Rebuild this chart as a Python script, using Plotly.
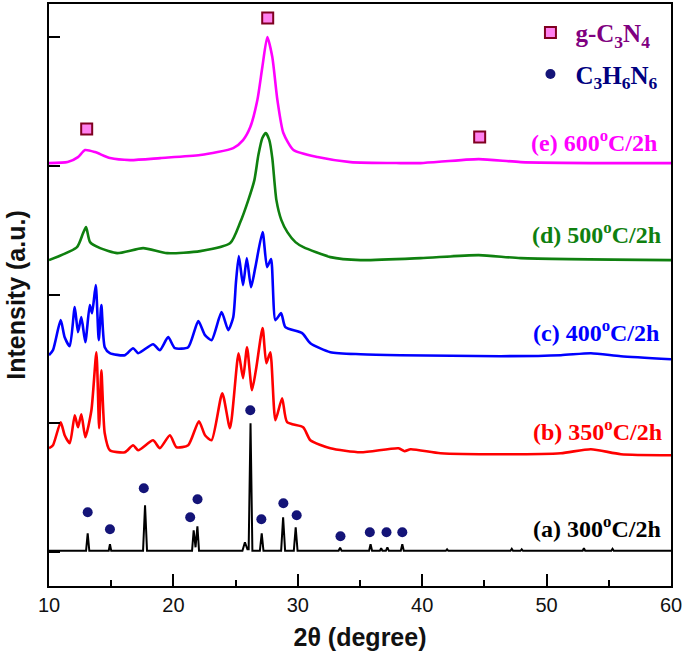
import plotly.graph_objects as go

# ---- data (2theta in degrees, intensity in arbitrary units, stacked offsets included) ----
a_x = [10, 12.98, 13.11, 13.24, 14.8, 14.9, 15.0, 17.56, 17.72, 17.88, 21.5, 21.63, 21.78, 21.93, 22.06,
       22.2, 25.55, 25.75, 25.95, 26.05, 26.2, 26.35, 26.95, 27.1, 27.24, 28.66, 28.82, 28.98, 29.68, 29.83,
       29.98, 33.28, 33.4, 33.52, 35.73, 35.85, 35.97, 36.6, 36.7, 36.8, 37.08, 37.2, 37.32, 38.28, 38.4,
       38.52, 41.9, 42.0, 42.1, 47.1, 47.2, 47.3, 47.9, 48.0, 48.1, 52.9, 53.0, 53.1, 55.2, 55.3, 55.4, 60]
a_y = [1.5, 1.5, 19, 1.5, 1.5, 8, 1.5, 1.5, 47, 1.5, 1.5, 22, 5, 26, 1.5,
       1.5, 1.5, 10, 3, 3, 129, 1.5, 1.5, 19, 1.5, 1.5, 35, 1.5, 1.5, 25,
       1.5, 1.5, 4.5, 1.5, 1.5, 8, 1.5, 1.5, 4, 1.5, 1.5, 5, 1.5, 1.5, 8,
       1.5, 1.5, 3, 1.5, 1.5, 3.5, 1.5, 1.5, 3, 1.5, 1.5, 4, 1.5, 1.5, 3.5, 1.5, 1.5]

b_x = [10, 10.32, 10.94, 11.26, 11.67, 12.07, 12.33, 12.6, 12.92, 13.41, 13.81, 14.03, 14.21, 14.48,
       14.89, 16.1, 16.76, 17.17, 18.37, 18.91, 19.72, 20.25, 21.19, 22.05, 22.54, 23.07, 23.93, 24.55,
       25.24, 25.6, 25.92, 26.32, 26.67, 27.17, 27.47, 27.79, 28.2, 28.74, 29.14, 30.43, 31.01, 32.62,
       35.04, 38.1, 38.58, 39.07, 41.48, 46.31, 51.14, 53.56, 55.97, 60]
b_y = [104, 107, 130, 117, 109, 137, 125, 138, 115, 142, 200, 124, 182, 119,
       102, 100, 107, 102, 112, 104, 117, 105, 107, 131, 117, 112, 159, 124,
       199, 174, 205, 162, 185, 224, 189, 200, 132, 154, 130, 125, 112, 104,
       100, 104, 101, 103, 99, 98, 99, 103, 98, 97]

c_x = [10, 10.32, 10.94, 11.26, 11.67, 12.07, 12.33, 12.6, 12.92, 13.28, 13.46, 13.76, 14.0, 14.21,
       14.48, 14.89, 16.1, 16.76, 17.17, 18.37, 18.91, 19.58, 20.12, 21.19, 22.0, 22.54, 23.07, 23.87,
       24.41, 24.81, 25.03, 25.26, 25.6, 25.9, 26.24, 26.59, 27.17, 27.53, 27.85, 28.2, 28.66, 29.0,
       30.35, 31.01, 32.62, 35.04, 38.26, 46.31, 51.14, 53.56, 55.97, 60]
c_y = [197, 202, 232, 215, 206, 245, 220, 235, 210, 247, 239, 267, 212, 247,
       205, 199, 197, 204, 199, 208, 202, 215, 204, 205, 231, 217, 212, 240,
       222, 235, 270, 296, 267, 294, 265, 285, 320, 285, 293, 232, 239, 225,
       219, 209, 200, 198, 197, 196, 197, 199, 196, 193]

d_x = [10, 12.25, 12.74, 12.98, 13.3, 14.11, 15.48, 17.57, 19.5, 22.16, 24.57, 25.38, 26.02, 26.51,
       26.83, 27.15, 27.43, 27.71, 27.95, 28.28, 28.68, 29.16, 29.81, 30.45, 32.62, 35.04, 39.87,
       44.54, 47.92, 60]
d_y = [292, 305, 319, 325, 310, 304, 299, 304, 299, 301, 309, 330, 352, 372,
       397, 414, 419, 412, 394, 352, 332, 320, 310, 305, 295, 292, 294,
       297, 294, 292]

e_x = [10, 11.5, 12.33, 12.9, 13.7, 14.91, 16.52, 18.94, 22.16, 24.81, 25.6, 26.18, 26.75, 27.15,
       27.55, 27.95, 28.36, 28.84, 29.65, 31.58, 34.24, 38.26, 39.87, 44.54, 47.92, 55, 60]
e_y = [389, 390, 395, 402, 400, 394, 392, 394, 397, 404, 412, 425, 452, 485,
       515, 495, 452, 419, 402, 395, 390, 389, 389, 393, 390, 389, 389]

g_c3n4_x = [13.03, 27.58, 44.62]
g_c3n4_y = [423, 534, 415]

c3h6n6_x = [13.11, 14.9, 17.62, 21.35, 21.94, 26.18, 27.07, 28.84, 29.91, 33.43, 35.79, 37.13, 38.4]
c3h6n6_y = [40, 23, 64, 35, 53, 142, 33, 49, 37, 16, 20, 20, 20]

labels = ["(a) 300<sup>o</sup>C/2h", "(b) 350<sup>o</sup>C/2h", "(c) 400<sup>o</sup>C/2h",
          "(d) 500<sup>o</sup>C/2h", "(e) 600<sup>o</sup>C/2h"]
label_y = [25, 122, 221, 319, 411]
label_x = [59.35, 59.43, 59.19, 59.35, 59.03]
colors = ["#000000", "#ff0000", "#0000ff", "#0f800f", "#ff00ff"]

xticks = [10, 20, 30, 40, 50, 60]
yticks = [0, 128.75, 257.5, 386.25, 515]

fig = go.Figure()
series = [(a_x, a_y), (b_x, b_y), (c_x, c_y), (d_x, d_y), (e_x, e_y)]
for i, (sx, sy) in enumerate(series):
    if i == 0:
        ln = dict(color=colors[i], width=2)
    else:
        ln = dict(color=colors[i], width=2.6, shape="spline", smoothing=0.6)
    fig.add_trace(go.Scatter(x=sx, y=sy, mode="lines", showlegend=False, line=ln))

fig.add_trace(go.Scatter(
    x=g_c3n4_x, y=g_c3n4_y, mode="markers",
    name="<span style='color:#800080'><b>g-C<sub>3</sub>N<sub>4</sub></b></span>",
    legendgroup="g1",
    marker=dict(symbol="square", size=11, color="#ff80f0", line=dict(color="#800020", width=2))))
fig.add_trace(go.Scatter(
    x=c3h6n6_x, y=c3h6n6_y, mode="markers",
    name="<span style='color:#000080'><b>C<sub>3</sub>H<sub>6</sub>N<sub>6</sub></b></span>",
    legendgroup="g2",
    marker=dict(symbol="circle", size=10, color="#141478")))

for i in range(5):
    fig.add_annotation(x=label_x[i], y=label_y[i], xref="x", yref="y", text="<b>" + labels[i] + "</b>",
                       showarrow=False, xanchor="right", yanchor="middle",
                       font=dict(family="Liberation Serif, Times New Roman, serif", size=24, color=colors[i]))

axis_common = dict(showline=True, linecolor="black", linewidth=2, mirror=True, showgrid=False,
                   zeroline=False, ticks="inside", tickcolor="black", tickwidth=1.5, automargin=False)

fig.update_layout(
    width=685, height=662,
    margin=dict(l=49, r=14, t=4, b=76),
    paper_bgcolor="white", plot_bgcolor="white",
    hovermode=False,
    xaxis=dict(range=[10, 60], tickvals=xticks, ticklen=12,
               minor=dict(dtick=5, tick0=0, ticklen=6, ticks="inside", tickcolor="black", tickwidth=1.5),
               tickfont=dict(family="Liberation Sans, Arial, sans-serif", size=20, color="#111"),
               title=dict(text="<b>2θ (degree)</b>", standoff=13,
                          font=dict(family="Liberation Sans, Arial, sans-serif", size=25, color="#111")),
               **axis_common),
    yaxis=dict(range=[-33.7, 548], tickvals=yticks, ticklen=11, showticklabels=False,
               title=dict(text="<b>Intensity (a.u.)</b>", standoff=14,
                          font=dict(family="Liberation Sans, Arial, sans-serif", size=25, color="#111")),
               **axis_common),
    legend=dict(x=0.766, y=0.990, xanchor="left", yanchor="top", bgcolor="rgba(0,0,0,0)",
                font=dict(family="Liberation Serif, Times New Roman, serif", size=25),
                traceorder="grouped", tracegroupgap=6, itemwidth=40),
)

fig.write_html("out.html", config={"displayModeBar": False},
               post_script="document.body.style.margin='0';document.body.style.overflow='hidden';")
